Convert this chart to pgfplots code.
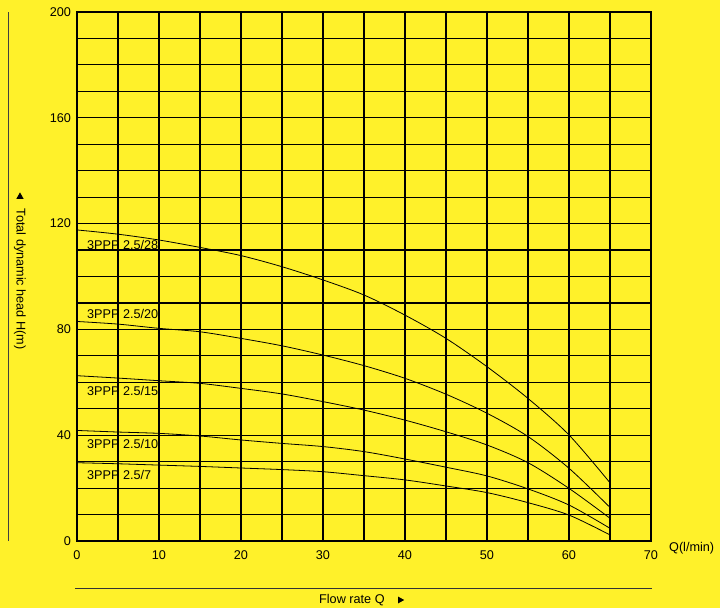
\documentclass[border=0pt]{standalone}
\usepackage{pgfplots}
\pgfplotsset{compat=1.18}
\usepackage{fontspec}
\setmainfont{Liberation Sans}
\usetikzlibrary{backgrounds}
\definecolor{bgyellow}{RGB}{255,241,42}

\begin{document}
\begin{tikzpicture}[font=\fontsize{9.5}{11}\selectfont]
  \begin{axis}[
    scale only axis,
    width=430.5pt, height=396.75pt,
    xmin=0, xmax=70, ymin=0, ymax=200,
    xtick={0,10,...,70},
    ytick={0,40,...,200},
    minor x tick num=1,
    minor y tick num=3,
    grid=both,
    major grid style={black, line width=0.9pt},
    minor grid style={black, line width=0.9pt},
    axis line style={black, line width=0.9pt},
    major tick length=0pt, minor tick length=0pt,
    /pgf/number format/assume math mode=true,
    tick label style={font=\fontsize{9.5}{11}\selectfont, black},
    xticklabel style={yshift=-4pt},
    yticklabel style={xshift=-1pt},
    clip=false,
  ]
    % 3PPP 2.5/28
    \addplot[black, line width=0.6pt, smooth] coordinates {
      (0,117.6) (5,116) (10,113.8) (15,111) (20,107.9) (25,103.7) (30,98.7)
      (35,93) (40,85.4) (45,76.6) (50,65.9) (55,53.9) (60,40.1) (65,22)};
    % 3PPP 2.5/20
    \addplot[black, line width=0.6pt, smooth] coordinates {
      (0,83) (5,82) (10,80.4) (15,79.1) (20,76.6) (25,73.8) (30,70.3)
      (35,66.3) (40,61.5) (45,55.5) (50,48.3) (55,39.5) (60,27.5) (65,12.7)};
    % 3PPP 2.5/15
    \addplot[black, line width=0.6pt, smooth] coordinates {
      (0,62.5) (5,61.6) (10,60.6) (15,59.6) (20,57.7) (25,55.6) (30,52.7)
      (35,49.5) (40,45.7) (45,41.3) (50,36.3) (55,29.6) (60,19.9) (65,8.6)};
    % 3PPP 2.5/10
    \addplot[black, line width=0.6pt, smooth] coordinates {
      (0,41.8) (5,41.2) (10,40.7) (15,39.7) (20,38.2) (25,36.9) (30,35.7)
      (35,33.8) (40,31) (45,27.9) (50,24.6) (55,19.7) (60,13.6) (65,4.8)};
    % 3PPP 2.5/7
    \addplot[black, line width=0.6pt, smooth] coordinates {
      (0,29.6) (5,29.2) (10,28.7) (15,28.2) (20,27.6) (25,27) (30,26.2)
      (35,24.7) (40,23.1) (45,20.8) (50,18.3) (55,14.5) (60,9.8) (65,2.3)};

    \node[anchor=west, inner sep=0pt] at (axis cs:1.2,111.9) {3PPP 2.5/28};
    \node[anchor=west, inner sep=0pt] at (axis cs:1.2,85.8) {3PPP 2.5/20};
    \node[anchor=west, inner sep=0pt] at (axis cs:1.2,56.7) {3PPP 2.5/15};
    \node[anchor=west, inner sep=0pt] at (axis cs:1.2,36.7) {3PPP 2.5/10};
    \node[anchor=west, inner sep=0pt] at (axis cs:1.2,25) {3PPP 2.5/7};

    \coordinate (SW) at (rel axis cs:0,0);
    \coordinate (NE) at (rel axis cs:1,1);
    \coordinate (YL) at (axis cs:0,99);
    \coordinate (YT) at (axis cs:0,130.4);
    \coordinate (XL) at (axis cs:29.5,0);
    \coordinate (XR) at (rel axis cs:1,0);
  \end{axis}

  % y label with arrow
  \node[rotate=-90, inner sep=0pt] at ([xshift=-42.75pt]YL) {Total dynamic head H(m)};
  \fill[black] ([xshift=-42.75pt,yshift=-2pt]YT) ++(-2.7pt,0) -- ++(5.4pt,0) -- ++(-2.7pt,4.8pt) -- cycle;
  % left rule
  \draw[black!75, line width=0.6pt] ([xshift=-51.75pt]SW) -- ([xshift=-51.75pt]SW |- NE);
  % bottom rule
  \draw[black!80, line width=0.6pt] ([xshift=-1.5pt,yshift=-35.25pt]SW) -- ([xshift=1pt,yshift=-35.25pt]XR);
  % x label with arrow
  \node[anchor=west, inner sep=0pt] (FL) at ([yshift=-44.25pt]XL) {Flow rate Q};
  \fill[black] ([xshift=10pt]FL.east) ++(0,-2.5pt) -- ++(0,5pt) -- ++(4.5pt,-2.5pt) -- cycle;
  % unit
  \node[inner sep=0pt] at ([xshift=30.5pt,yshift=-5.25pt]XR) {Q(l/min)};

  \pgfresetboundingbox
  \path[use as bounding box] ([xshift=-57.75pt,yshift=-50.25pt]SW) rectangle ([xshift=51.75pt,yshift=9pt]NE);
  \begin{scope}[on background layer]
    \fill[bgyellow] ([xshift=-57.75pt,yshift=-50.25pt]SW) rectangle ([xshift=51.75pt,yshift=9pt]NE);
  \end{scope}
\end{tikzpicture}
\end{document}
